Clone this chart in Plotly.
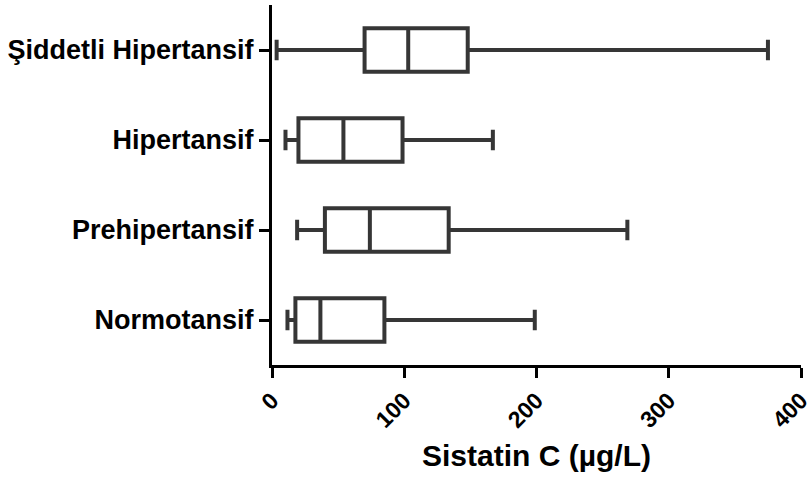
import plotly.graph_objects as go

categories = ["Normotansif", "Prehipertansif", "Hipertansif", "Şiddetli Hipertansif"]
lower = [11.7, 19, 10.2, 3.5]
q1 = [17.7, 40, 20, 70]
median = [36.6, 74, 54, 103]
q3 = [85, 133.6, 98.7, 148]
upper = [198.7, 268.7, 167, 375]
x_ticks = [0, 100, 200, 300, 400]

line_col = "#363636"

fig = go.Figure()
fig.add_trace(go.Box(
    y=categories,
    q1=q1, median=median, q3=q3,
    lowerfence=lower, upperfence=upper,
    orientation="h",
    fillcolor="white",
    line=dict(color=line_col, width=4),
    whiskerwidth=0.47,
    boxpoints=False,
    showlegend=False,
    hoverinfo="skip",
))

fig.update_layout(
    width=810, height=484,
    margin=dict(l=272, r=9, t=5, b=119),
    paper_bgcolor="white", plot_bgcolor="white",
    font=dict(family="Liberation Sans, Arial, sans-serif", color="black"),
    boxgap=0.31,
)
fig.update_xaxes(
    range=[0, 400],
    tickvals=x_ticks,
    ticktext=[f"<b>{v}</b>" for v in x_ticks],
    tickangle=-45,
    tickfont=dict(size=23),
    ticks="outside", ticklen=10, tickwidth=3, tickcolor="black",
    ticklabeloverflow="allow",
    showline=True, linecolor="black", linewidth=3,
    showgrid=False, zeroline=False,
    automargin=False,
    title=dict(text="<b>Sistatin C (µg/L)</b>", font=dict(size=30), standoff=14),
)
fig.update_yaxes(
    type="category",
    categoryorder="array", categoryarray=categories,
    range=[-0.5, 3.5],
    tickvals=categories,
    ticktext=[f"<b>{c}</b>" for c in categories],
    tickfont=dict(size=27),
    ticks="outside", ticklen=10, tickwidth=3, tickcolor="black",
    showline=True, linecolor="black", linewidth=3,
    showgrid=False, zeroline=False,
    automargin=False,
)

fig.write_html("out.html", config={"displayModeBar": False},
               post_script="document.body.style.margin='0px';")
